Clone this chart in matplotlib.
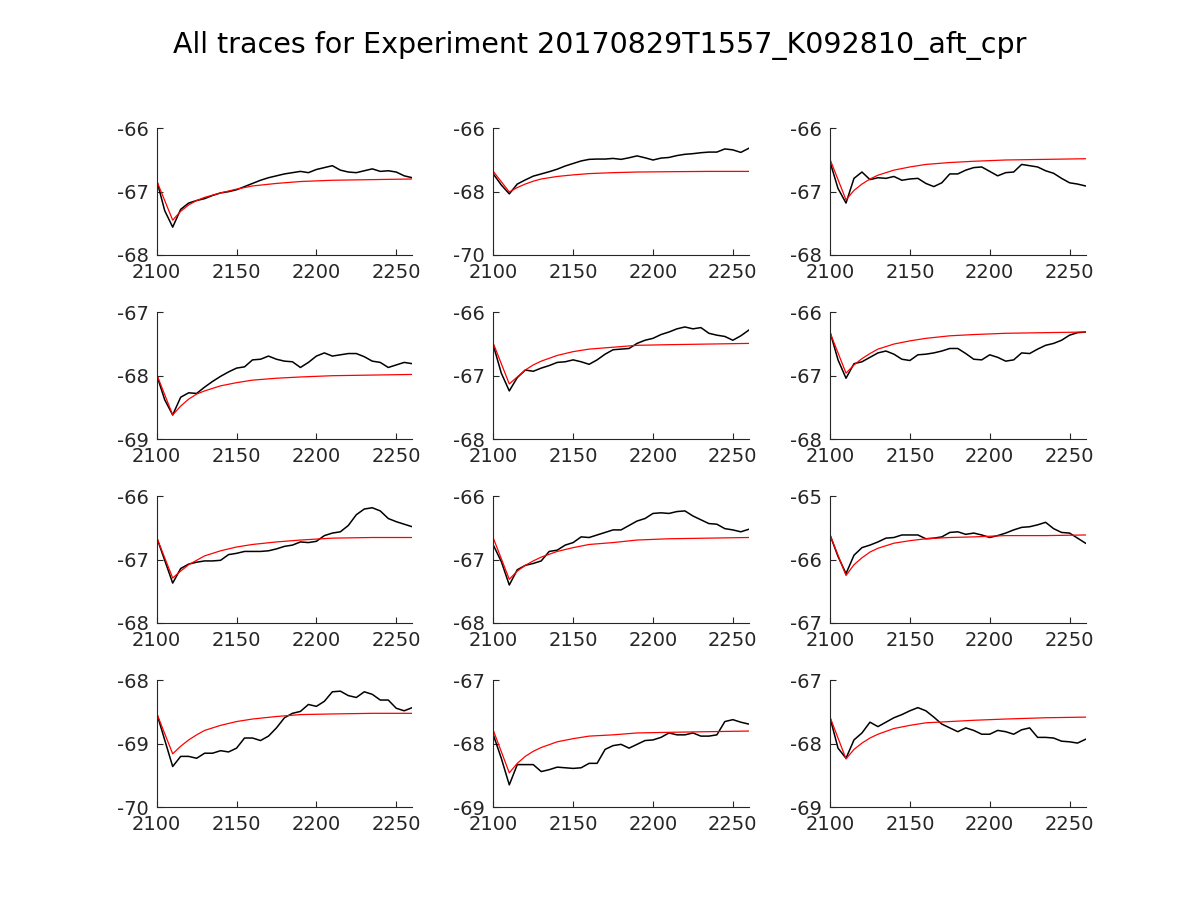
import matplotlib
matplotlib.use("Agg")
import matplotlib.pyplot as plt

# sample times (s) for the recorded traces and for the fitted curves
t_trace = [2100, 2105, 2110, 2115, 2120, 2125, 2130, 2135, 2140, 2145, 2150,
           2155, 2160, 2165, 2170, 2175, 2180, 2185, 2190, 2195, 2200, 2205,
           2210, 2215, 2220, 2225, 2230, 2235, 2240, 2245, 2250, 2255, 2260]
t_fit = [2100, 2110, 2115, 2120, 2125, 2130, 2140, 2150, 2160, 2175, 2190,
         2210, 2235, 2260]

trace_1 = [-66.82, -67.30, -67.56, -67.28, -67.18, -67.14, -67.11, -67.06, -67.02, -67.00, -66.97,
           -66.92, -66.87, -66.82, -66.78, -66.75, -66.72, -66.70, -66.68, -66.70, -66.65, -66.62,
           -66.59, -66.66, -66.69, -66.70, -66.67, -66.64, -66.68, -66.67, -66.69, -66.75, -66.78]
trace_2 = [-67.44, -67.79, -68.07, -67.76, -67.63, -67.51, -67.44, -67.37, -67.29, -67.19, -67.11,
           -67.03, -66.98, -66.97, -66.97, -66.95, -66.98, -66.93, -66.87, -66.93, -67.00, -66.94,
           -66.92, -66.86, -66.82, -66.80, -66.77, -66.75, -66.75, -66.65, -66.68, -66.76, -66.63]
trace_3 = [-66.53, -66.95, -67.18, -66.79, -66.69, -66.81, -66.78, -66.79, -66.76, -66.82, -66.80,
           -66.79, -66.87, -66.92, -66.86, -66.72, -66.72, -66.66, -66.62, -66.61, -66.68, -66.75,
           -66.70, -66.69, -66.57, -66.59, -66.61, -66.67, -66.71, -66.79, -66.86, -66.88, -66.91]
trace_4 = [-67.99, -68.38, -68.62, -68.34, -68.27, -68.28, -68.18, -68.09, -68.01, -67.94, -67.88,
           -67.86, -67.75, -67.74, -67.69, -67.74, -67.77, -67.78, -67.87, -67.79, -67.69, -67.64,
           -67.69, -67.67, -67.65, -67.65, -67.70, -67.77, -67.79, -67.87, -67.83, -67.79, -67.81]
trace_5 = [-66.52, -66.96, -67.24, -67.03, -66.91, -66.93, -66.88, -66.84, -66.79, -66.78, -66.75,
           -66.78, -66.82, -66.75, -66.66, -66.59, -66.58, -66.57, -66.49, -66.44, -66.41, -66.35,
           -66.31, -66.26, -66.23, -66.26, -66.24, -66.33, -66.36, -66.38, -66.44, -66.37, -66.28]
trace_6 = [-66.31, -66.75, -67.04, -66.81, -66.78, -66.71, -66.64, -66.61, -66.66, -66.74, -66.76,
           -66.67, -66.66, -66.64, -66.61, -66.57, -66.57, -66.65, -66.74, -66.75, -66.67, -66.71,
           -66.77, -66.75, -66.64, -66.65, -66.58, -66.52, -66.49, -66.44, -66.36, -66.32, -66.31]
trace_7 = [-66.65, -67.01, -67.37, -67.14, -67.07, -67.04, -67.02, -67.02, -67.01, -66.92, -66.90,
           -66.87, -66.87, -66.87, -66.86, -66.83, -66.79, -66.77, -66.72, -66.73, -66.71, -66.62,
           -66.58, -66.56, -66.46, -66.29, -66.20, -66.18, -66.23, -66.35, -66.40, -66.44, -66.48]
trace_8 = [-66.77, -67.03, -67.40, -67.16, -67.09, -67.06, -67.02, -66.87, -66.85, -66.77, -66.73,
           -66.64, -66.65, -66.61, -66.57, -66.53, -66.53, -66.46, -66.39, -66.35, -66.27, -66.26,
           -66.27, -66.24, -66.23, -66.31, -66.37, -66.43, -66.44, -66.51, -66.53, -66.56, -66.52]
trace_9 = [-65.61, -65.95, -66.22, -65.93, -65.81, -65.77, -65.72, -65.66, -65.65, -65.61, -65.61,
           -65.61, -65.67, -65.66, -65.64, -65.57, -65.56, -65.60, -65.58, -65.61, -65.65, -65.62,
           -65.58, -65.53, -65.49, -65.48, -65.45, -65.41, -65.51, -65.57, -65.58, -65.66, -65.74]
trace_10 = [-68.52, -68.94, -69.36, -69.20, -69.20, -69.23, -69.15, -69.15, -69.11, -69.13, -69.07,
            -68.91, -68.91, -68.95, -68.88, -68.75, -68.59, -68.52, -68.49, -68.38, -68.41, -68.33,
            -68.18, -68.17, -68.24, -68.27, -68.18, -68.22, -68.31, -68.31, -68.44, -68.48, -68.43]
trace_11 = [-67.86, -68.23, -68.65, -68.33, -68.33, -68.33, -68.44, -68.41, -68.37, -68.38, -68.39,
            -68.38, -68.31, -68.31, -68.09, -68.03, -68.01, -68.07, -68.01, -67.95, -67.94, -67.90,
            -67.83, -67.86, -67.86, -67.83, -67.88, -67.88, -67.86, -67.65, -67.62, -67.66, -67.69]
trace_12 = [-67.59, -68.07, -68.23, -67.94, -67.83, -67.66, -67.73, -67.66, -67.59, -67.54, -67.48,
            -67.43, -67.48, -67.58, -67.69, -67.75, -67.81, -67.75, -67.79, -67.85, -67.85, -67.79,
            -67.81, -67.85, -67.78, -67.75, -67.90, -67.90, -67.91, -67.96, -67.97, -67.99, -67.93]

# fitted curves (red)
fit_1 = [-66.83, -67.45, -67.31, -67.21, -67.14, -67.09, -67.02, -66.96, -66.91, -66.87, -66.84, -66.82, -66.81, -66.80]
fit_2 = [-67.36, -68.01, -67.87, -67.76, -67.67, -67.60, -67.52, -67.47, -67.43, -67.40, -67.38, -67.37, -67.36, -67.36]
fit_3 = [-66.49, -67.13, -66.98, -66.88, -66.80, -66.74, -66.66, -66.61, -66.57, -66.54, -66.52, -66.50, -66.49, -66.48]
fit_4 = [-67.98, -68.62, -68.48, -68.37, -68.29, -68.24, -68.16, -68.11, -68.07, -68.04, -68.02, -68.00, -67.99, -67.98]
fit_5 = [-66.49, -67.13, -67.02, -66.91, -66.83, -66.77, -66.68, -66.62, -66.58, -66.55, -66.52, -66.51, -66.50, -66.49]
fit_6 = [-66.32, -66.96, -66.83, -66.73, -66.65, -66.58, -66.50, -66.45, -66.41, -66.37, -66.35, -66.33, -66.32, -66.31]
fit_7 = [-66.65, -67.29, -67.18, -67.08, -67.01, -66.94, -66.86, -66.80, -66.76, -66.72, -66.69, -66.66, -66.65, -66.65]
fit_8 = [-66.66, -67.31, -67.18, -67.09, -67.02, -66.96, -66.87, -66.81, -66.76, -66.73, -66.69, -66.67, -66.66, -66.65]
fit_9 = [-65.61, -66.25, -66.08, -65.97, -65.88, -65.82, -65.74, -65.70, -65.67, -65.65, -65.64, -65.62, -65.62, -65.61]
fit_10 = [-68.52, -69.16, -69.04, -68.94, -68.86, -68.79, -68.71, -68.65, -68.61, -68.57, -68.54, -68.53, -68.52, -68.52]
fit_11 = [-67.79, -68.46, -68.31, -68.20, -68.12, -68.06, -67.97, -67.92, -67.88, -67.86, -67.83, -67.82, -67.81, -67.80]
fit_12 = [-67.58, -68.24, -68.09, -67.99, -67.91, -67.85, -67.76, -67.71, -67.67, -67.65, -67.63, -67.61, -67.59, -67.58]

# y ranges of each panel (bottom, top)
y_ranges = [(-68, -66), (-70, -66), (-68, -66),
            (-69, -67), (-68, -66), (-68, -66),
            (-68, -66), (-68, -66), (-67, -65),
            (-70, -68), (-69, -67), (-69, -67)]

traces = [trace_1, trace_2, trace_3, trace_4, trace_5, trace_6,
          trace_7, trace_8, trace_9, trace_10, trace_11, trace_12]
fits = [fit_1, fit_2, fit_3, fit_4, fit_5, fit_6,
        fit_7, fit_8, fit_9, fit_10, fit_11, fit_12]

fig = plt.figure(figsize=(12, 9), dpi=100)

lefts = [0.1306, 0.4111, 0.6917]
bottoms = [0.7167, 0.5122, 0.3078, 0.1033]
w, h = 0.2129, 0.1407
grey = "#262626"

for i in range(12):
    r, c = divmod(i, 3)
    ax = fig.add_axes([lefts[c], bottoms[r], w, h])
    ax.plot(t_trace, traces[i], color="black", linewidth=1.1)
    ax.plot(t_fit, fits[i], color="red", linewidth=0.9)
    lo, hi = y_ranges[i]
    ax.set_xlim(2100, 2260)
    ax.set_ylim(lo, hi)
    ax.set_xticks([2100, 2150, 2200, 2250])
    ax.set_yticks([lo, (lo + hi) / 2, hi])
    ax.set_yticklabels([f"{v:g}" for v in [lo, (lo + hi) / 2, hi]])
    for s in ["top", "right"]:
        ax.spines[s].set_visible(False)
    for s in ["left", "bottom"]:
        ax.spines[s].set_color(grey)
        ax.spines[s].set_linewidth(0.8)
    ax.tick_params(direction="in", length=4, width=0.8, colors=grey,
                   labelsize=14, pad=6)

fig.suptitle("All traces for Experiment 20170829T1557_K092810_aft_cpr",
             fontsize=20.5, y=0.95, va="center")

plt.savefig("out.png", dpi=100)
